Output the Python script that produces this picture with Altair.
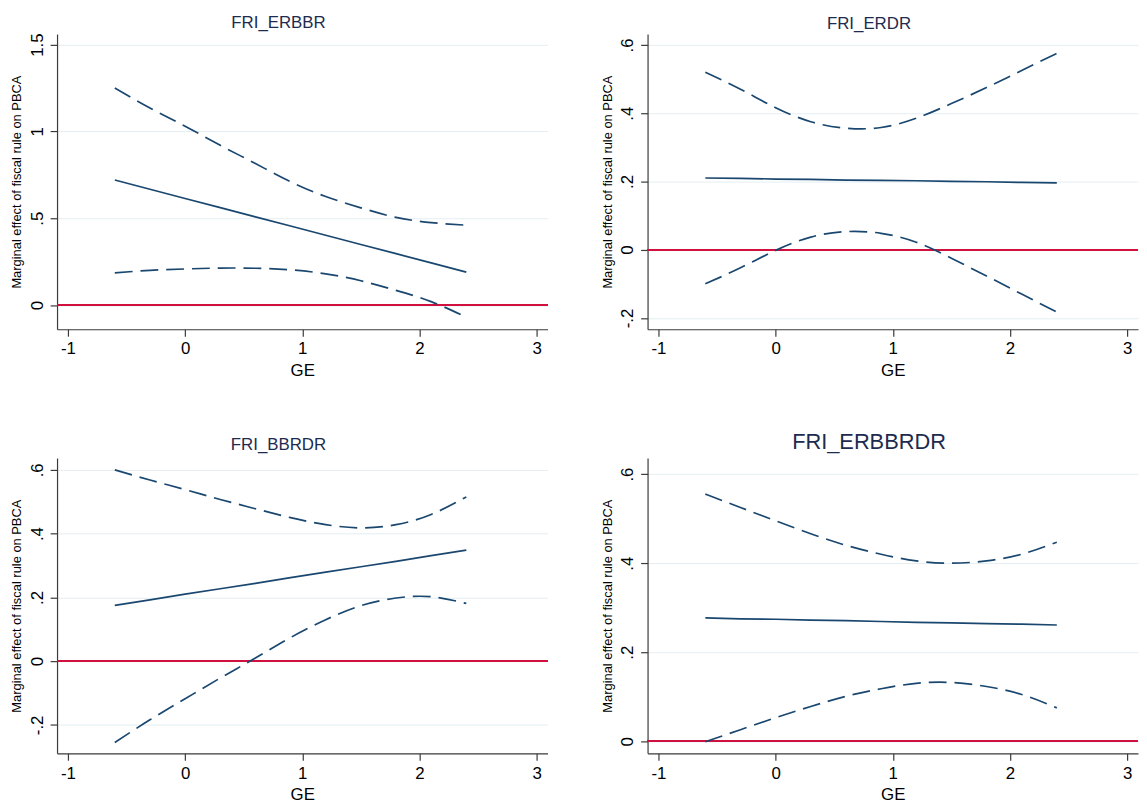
import altair as alt
import pandas as pd

# ---------------- data ----------------
GE = [-0.6, -0.3, 0.0, 0.3, 0.6, 0.9, 1.2, 1.5, 1.8, 2.1, 2.4]

TITLES = ["FRI_ERBBR", "FRI_ERDR", "FRI_BBRDR", "FRI_ERBBRDR"]

ME_1 = [0.720, 0.667, 0.614, 0.561, 0.508, 0.455, 0.402, 0.349, 0.296, 0.243, 0.190]
HI_1 = [1.250, 1.135, 1.030, 0.920, 0.815, 0.710, 0.625, 0.560, 0.505, 0.475, 0.460]
LO_1 = [0.185, 0.200, 0.208, 0.213, 0.212, 0.203, 0.180, 0.140, 0.085, 0.020, -0.070]

ME_2 = [0.210, 0.209, 0.207, 0.206, 0.204, 0.203, 0.202, 0.200, 0.199, 0.197, 0.196]
HI_2 = [0.520, 0.470, 0.416, 0.375, 0.356, 0.358, 0.385, 0.428, 0.475, 0.525, 0.575]
LO_2 = [-0.100, -0.053, -0.002, 0.037, 0.053, 0.048, 0.022, -0.025, -0.077, -0.130, -0.183]

ME_3 = [0.175, 0.192, 0.210, 0.227, 0.244, 0.262, 0.279, 0.296, 0.313, 0.331, 0.348]
HI_3 = [0.600, 0.568, 0.538, 0.507, 0.478, 0.450, 0.428, 0.418, 0.428, 0.460, 0.515]
LO_3 = [-0.255, -0.184, -0.118, -0.053, 0.010, 0.074, 0.130, 0.174, 0.198, 0.202, 0.181]

ME_4 = [0.277, 0.275, 0.274, 0.272, 0.271, 0.269, 0.267, 0.266, 0.264, 0.263, 0.261]
HI_4 = [0.555, 0.525, 0.495, 0.466, 0.440, 0.420, 0.405, 0.400, 0.405, 0.420, 0.447]
LO_4 = [-0.001, 0.026, 0.053, 0.078, 0.101, 0.118, 0.130, 0.132, 0.123, 0.105, 0.075]

Y_TICKS = [
    [0, 0.5, 1, 1.5],
    [-0.2, 0, 0.2, 0.4, 0.6],
    [-0.2, 0, 0.2, 0.4, 0.6],
    [0, 0.2, 0.4, 0.6],
]
Y_DOMAINS = [
    [-0.139, 1.561],
    [-0.233, 0.632],
    [-0.289, 0.637],
    [-0.027, 0.636],
]
X_TICKS = [-1, 0, 1, 2, 3]
X_DOMAIN = [-1.093, 3.093]

Y_TITLE = "Marginal effect of fiscal rule on PBCA"
X_TITLE = "GE"

# ---------------- styling ----------------
FONT = "Liberation Sans"
NAVY = "#1a476f"
RED = "#d0103f"
GRID = "#e4eef2"
AXIS = "#3a3a3a"
TITLE_COLOR = "#1d2b4f"
W = 495
H = 298
DASH = [18, 8]


def panel(title, me, hi, lo, yticks, ydomain, title_size, title_offset):
    df = pd.DataFrame({"GE": GE, "me": me, "hi": hi, "lo": lo})
    xscale = alt.Scale(domain=X_DOMAIN, nice=False, zero=False)
    yscale = alt.Scale(domain=ydomain, nice=False, zero=False)

    xaxis = alt.Axis(
        values=X_TICKS, title=X_TITLE, grid=False,
        labelExpr="'' + datum.value", labelFlush=False, labelOverlap=False,
        tickSize=7, labelPadding=5, labelFontSize=17, titleFontSize=17,
        titleY=46.5, titleBaseline="alphabetic",
    )
    yaxis = alt.Axis(
        values=yticks, title=Y_TITLE, grid=True, gridColor=GRID, gridWidth=1,
        labelExpr="replace('' + datum.value, '0.', '.')",
        labelAngle=270, labelAlign="center", labelBaseline="alphabetic",
        labelFlush=False, labelOverlap=False,
        tickSize=7, labelPadding=8, labelFontSize=17,
        titleFontSize=13, titleAngle=270, titleAlign="center",
        titleBaseline="middle", titleX=-40.5, titleY=H / 2,
    )

    def X():
        return alt.X("GE:Q", scale=xscale, axis=xaxis)

    def Y(field):
        return alt.Y(field, type="quantitative", scale=yscale, axis=yaxis, title=Y_TITLE)

    base = alt.Chart(df)
    zero = base.mark_rule(color=RED, strokeWidth=1.5).encode(
        y=alt.YDatum(0, type="quantitative", scale=yscale, axis=yaxis, title=Y_TITLE)
    )
    upper = base.mark_line(
        color=NAVY, strokeWidth=1.7, strokeDash=DASH, interpolate="natural"
    ).encode(x=X(), y=Y("hi"))
    lower = base.mark_line(
        color=NAVY, strokeWidth=1.7, strokeDash=DASH, interpolate="natural"
    ).encode(x=X(), y=Y("lo"))
    mid = base.mark_line(color=NAVY, strokeWidth=1.7).encode(x=X(), y=Y("me"))
    return alt.layer(zero, upper, lower, mid).properties(
        width=W, height=H,
        title=alt.Title(title, fontSize=title_size, dx=-24, offset=title_offset),
    )


panels = [
    panel(TITLES[0], ME_1, HI_1, LO_1, Y_TICKS[0], Y_DOMAINS[0], 17, 1),
    panel(TITLES[1], ME_2, HI_2, LO_2, Y_TICKS[1], Y_DOMAINS[1], 17, 1),
    panel(TITLES[2], ME_3, HI_3, LO_3, Y_TICKS[2], Y_DOMAINS[2], 17, 4),
    panel(TITLES[3], ME_4, HI_4, LO_4, Y_TICKS[3], Y_DOMAINS[3], 22, 4),
]

chart = (
    alt.concat(*panels, columns=2, spacing={"row": 130, "column": 101}, bounds="flush")
    .properties(padding={"left": 2.5, "top": 1.5, "right": 0, "bottom": 0},
                background="white")
    .configure_view(stroke=None)
    .configure_axis(
        domainColor=AXIS, domainWidth=1.2, tickColor=AXIS, tickWidth=1.2,
        labelFont=FONT, titleFont=FONT, labelColor="black", titleColor="black",
        titleFontWeight="normal",
    )
    .configure_title(
        font=FONT, fontWeight="normal", color=TITLE_COLOR,
        anchor="middle", frame="group", baseline="middle",
    )
)

chart.save("out.html", embed_options={"renderer": "svg", "actions": False})
